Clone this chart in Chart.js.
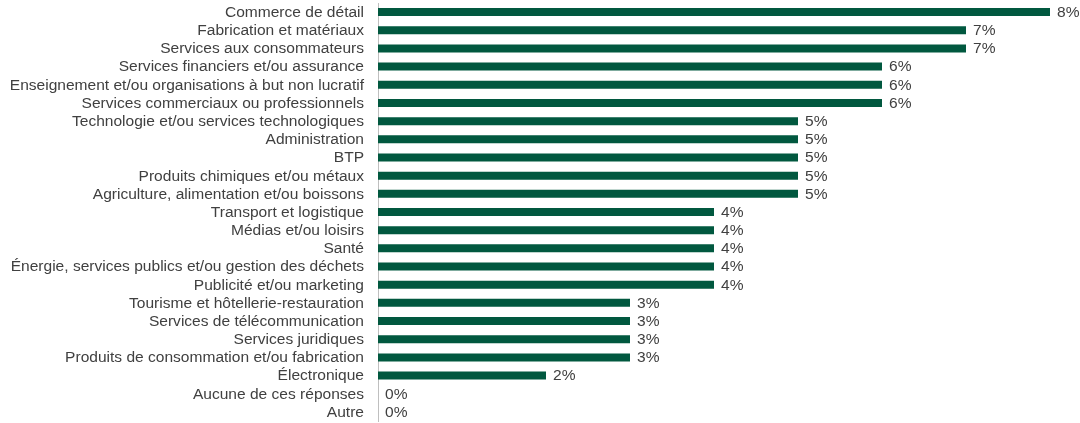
<!DOCTYPE html>
<html>
<head>
<meta charset="utf-8">
<script src="https://cdn.jsdelivr.net/npm/chart.js@4/dist/chart.umd.min.js"></script>
<style>
  html, body { margin: 0; padding: 0; background: #fff; }
  #wrap { width: 1080px; height: 423px; }
</style>
</head>
<body>
<div id="wrap"><canvas id="sectorChart"></canvas></div>
<script>
// Secteurs d'activité - part des répondants (%)
const sectors = [
  'Commerce de détail',
  'Fabrication et matériaux',
  'Services aux consommateurs',
  'Services financiers et/ou assurance',
  'Enseignement et/ou organisations à but non lucratif',
  'Services commerciaux ou professionnels',
  'Technologie et/ou services technologiques',
  'Administration',
  'BTP',
  'Produits chimiques et/ou métaux',
  'Agriculture, alimentation et/ou boissons',
  'Transport et logistique',
  'Médias et/ou loisirs',
  'Santé',
  'Énergie, services publics et/ou gestion des déchets',
  'Publicité et/ou marketing',
  'Tourisme et hôtellerie-restauration',
  'Services de télécommunication',
  'Services juridiques',
  'Produits de consommation et/ou fabrication',
  'Électronique',
  'Aucune de ces réponses',
  'Autre'
];
const shares = [8, 7, 7, 6, 6, 6, 5, 5, 5, 5, 5, 4, 4, 4, 4, 4, 3, 3, 3, 3, 2, 0, 0];

const textColor = '#404040';
const fontFamily = '"Liberation Sans", Arial, sans-serif';
const textStretch = 1.11;

function drawStretched(ctx, text, x, y) {
  ctx.save();
  ctx.translate(x, y);
  ctx.scale(textStretch, 1);
  ctx.fillText(text, 0, 0);
  ctx.restore();
}

// category names left of the axis
const categoryLabels = {
  id: 'categoryLabels',
  afterDraw(chart) {
    const ctx = chart.ctx;
    const yScale = chart.scales.y;
    ctx.save();
    ctx.font = '14px ' + fontFamily;
    ctx.fillStyle = textColor;
    ctx.textAlign = 'right';
    ctx.textBaseline = 'middle';
    sectors.forEach((name, i) => {
      drawStretched(ctx, name, yScale.right - 14, yScale.getPixelForTick(i) + 1);
    });
    ctx.restore();
  }
};

// value labels at the end of each bar
const barValueLabels = {
  id: 'barValueLabels',
  afterDatasetsDraw(chart) {
    const ctx = chart.ctx;
    const meta = chart.getDatasetMeta(0);
    ctx.save();
    ctx.font = '14px ' + fontFamily;
    ctx.fillStyle = textColor;
    ctx.textAlign = 'left';
    ctx.textBaseline = 'middle';
    meta.data.forEach((bar, i) => {
      drawStretched(ctx, shares[i] + '%', bar.x + 7, bar.y + 1);
    });
    ctx.restore();
  }
};

const sectorChart = new Chart(document.getElementById('sectorChart'), {
  type: 'bar',
  data: {
    labels: sectors,
    datasets: [{
      data: shares,
      backgroundColor: '#01583f',
      borderWidth: 0,
      barPercentage: 0.44,
      categoryPercentage: 1
    }]
  },
  options: {
    indexAxis: 'y',
    responsive: true,
    maintainAspectRatio: false,
    animation: false,
    layout: {
      padding: { top: 3, bottom: 2, right: 30, left: 0 }
    },
    scales: {
      x: {
        display: false,
        min: 0,
        max: 8
      },
      y: {
        afterFit(scale) {
          scale.width = 378;
          scale.paddingTop = 0;
          scale.paddingBottom = 0;
        },
        grid: { display: false, drawTicks: false },
        border: { display: true, color: '#bfbfbf', width: 1 },
        ticks: { display: false, autoSkip: false }
      }
    },
    plugins: {
      legend: { display: false },
      tooltip: { enabled: false }
    }
  },
  plugins: [categoryLabels, barValueLabels]
});
</script>
</body>
</html>
